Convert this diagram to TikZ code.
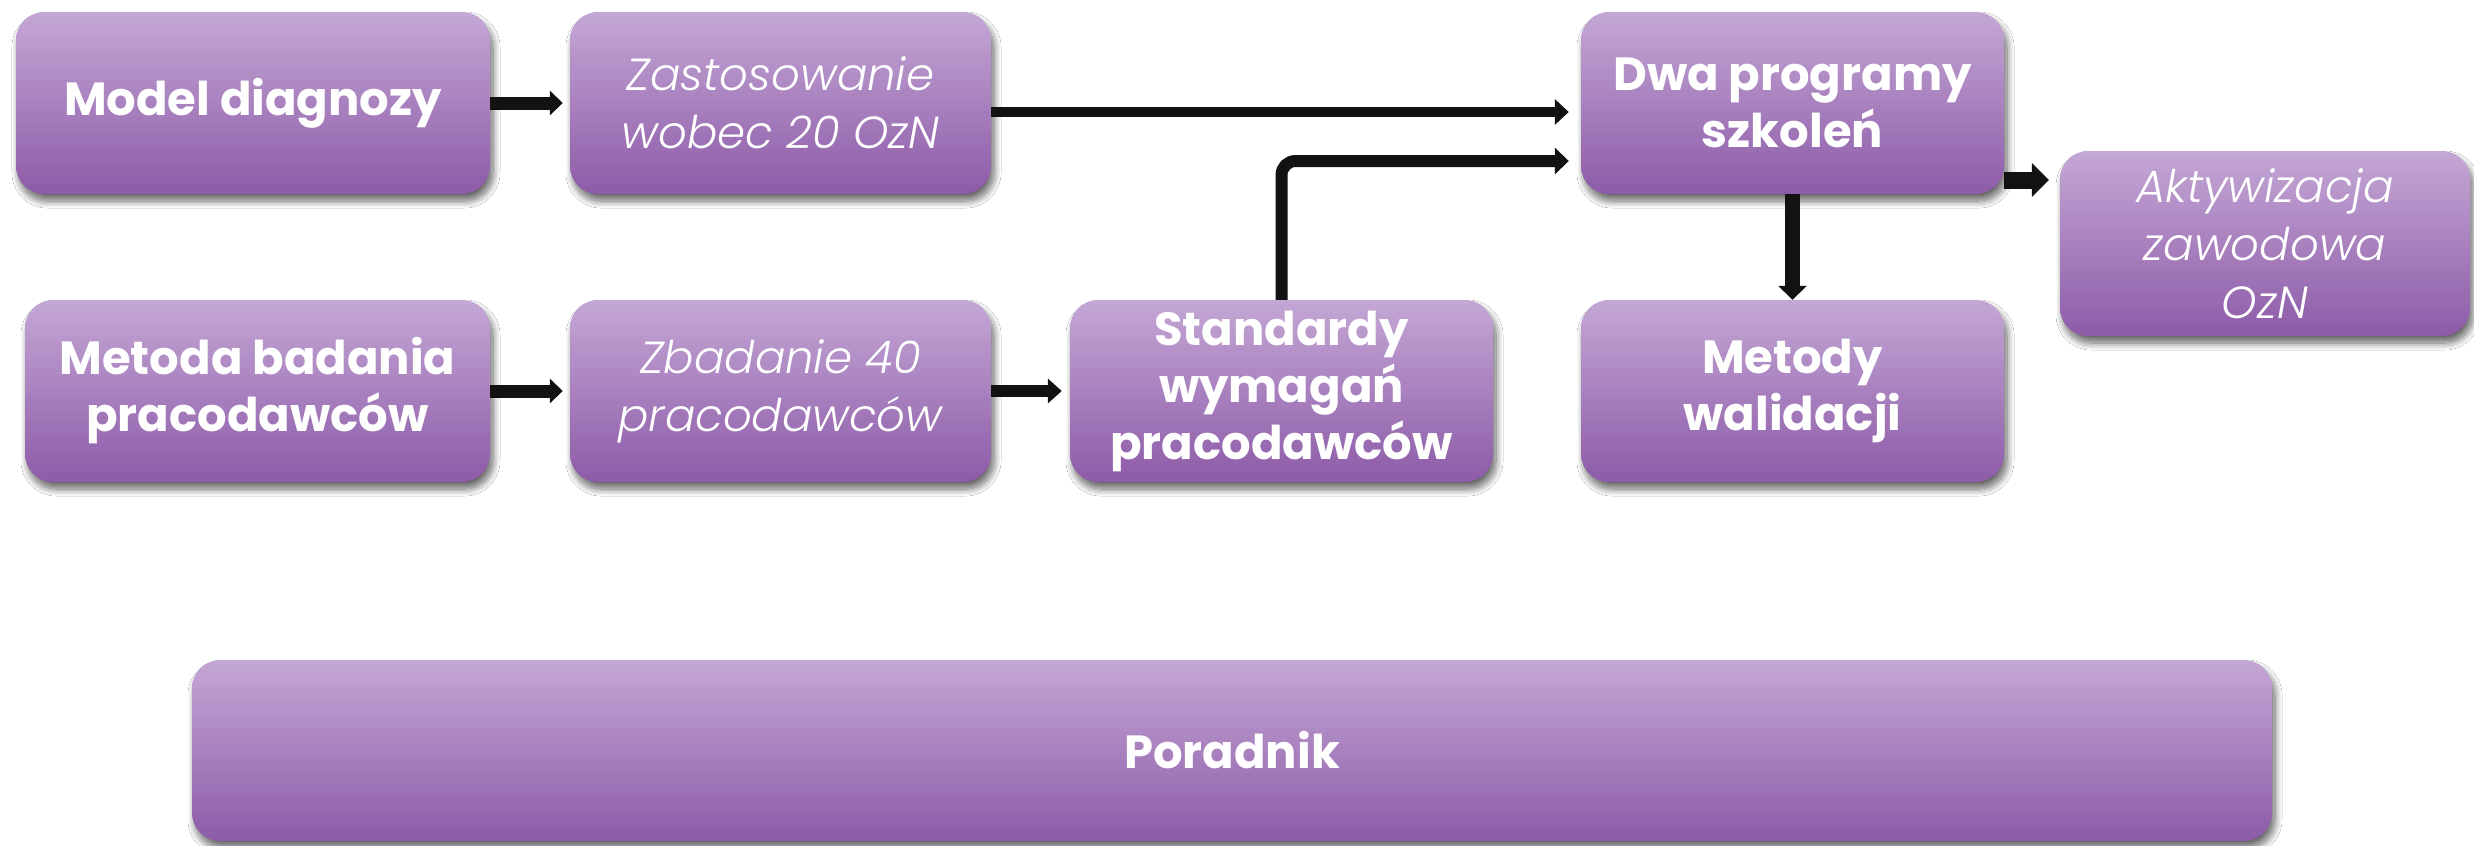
\documentclass[tikz,border=0pt]{standalone}
\usepackage{fontspec}
\setmainfont{Poppins}[ItalicFont={* Light Italic}]
\usetikzlibrary{arrows.meta,shadows.blur}
\definecolor{boxtop}{RGB}{196,167,213}
\definecolor{boxbot}{RGB}{141,91,168}
\definecolor{arrowc}{RGB}{18,18,18}
\tikzset{
  box/.style={rectangle, rounded corners=28pt, draw=none, top color=boxtop, bottom color=boxbot,
    text=white, align=center, inner sep=0pt,
    blur shadow={shadow xshift=3pt, shadow yshift=-7pt, shadow opacity=60, shadow blur radius=7pt, shadow blur steps=12}},
  bt/.style={font=\fontsize{46.5}{57}\selectfont\bfseries},
  it/.style={font=\fontsize{45}{58}\selectfont\itshape},
  conn/.style={draw=arrowc, line width=#1},
}
\begin{document}
\begin{tikzpicture}[x=1pt,y=-1pt]
\useasboundingbox[fill=white] (0,0) rectangle (2474,846);
% row 1
\node[box,bt,minimum width=474pt,minimum height=182pt] (md) at (253,103) {Model diagnozy};
\node[box,it,minimum width=421pt,minimum height=182pt] (zs) at (780.5,103) {Zastosowanie\\wobec 20 OzN};
\node[box,bt,minimum width=423pt,minimum height=182pt] (dwa) at (1792.5,103) {Dwa programy\\szkoleń};
\node[box,it,minimum width=410pt,minimum height=185pt] (akt) at (2265,243.5) {Aktywizacja\\zawodowa\\OzN};
% row 2
\node[box,bt,minimum width=465pt,minimum height=182pt] (mb) at (257.5,391) {Metoda badania\\pracodawców};
\node[box,it,minimum width=421pt,minimum height=182pt] (zb) at (780.5,391) {Zbadanie 40\\pracodawców};
\node[box,bt,minimum width=423pt,minimum height=182pt] (st) at (1281.5,391) {Standardy\\wymagań\\pracodawców};
\node[box,bt,minimum width=423pt,minimum height=182pt] (mw) at (1792.5,391) {Metody\\walidacji};
% bottom
\node[box,bt,minimum width=2080pt,minimum height=181pt] (por) at (1232,750.5) {Poradnik};
% connectors
\draw[conn=13pt, -{Triangle[length=13pt,width=24pt]}, shorten >=7pt] (md.east) -- (zs.west);
\draw[conn=13pt, -{Triangle[length=13pt,width=24pt]}, shorten >=7pt] (mb.east) -- (zb.west);
\draw[conn=12pt, -{Triangle[length=14pt,width=24pt]}, shorten >=8pt] (zb.east) -- (st.west);
\draw[conn=10pt, -{Triangle[length=14pt,width=25pt]}, shorten >=12pt] ([yshift=-9pt]zs.east) -- ([yshift=-9pt]dwa.west);
\draw[conn=12pt, rounded corners=14pt, -{Triangle[length=14pt,width=26pt]}, shorten >=12pt] (st.north) |- ([yshift=-58pt]dwa.west);
\draw[conn=15pt, -{Triangle[length=14pt,width=28pt]}] (dwa.south) -- (mw.north);
\coordinate (a1) at ([yshift=-77pt]dwa.east);
\draw[conn=17pt, -{Triangle[length=17pt,width=33pt]}, shorten >=11pt] (a1) -- (a1 -| akt.west);
\end{tikzpicture}
\end{document}
